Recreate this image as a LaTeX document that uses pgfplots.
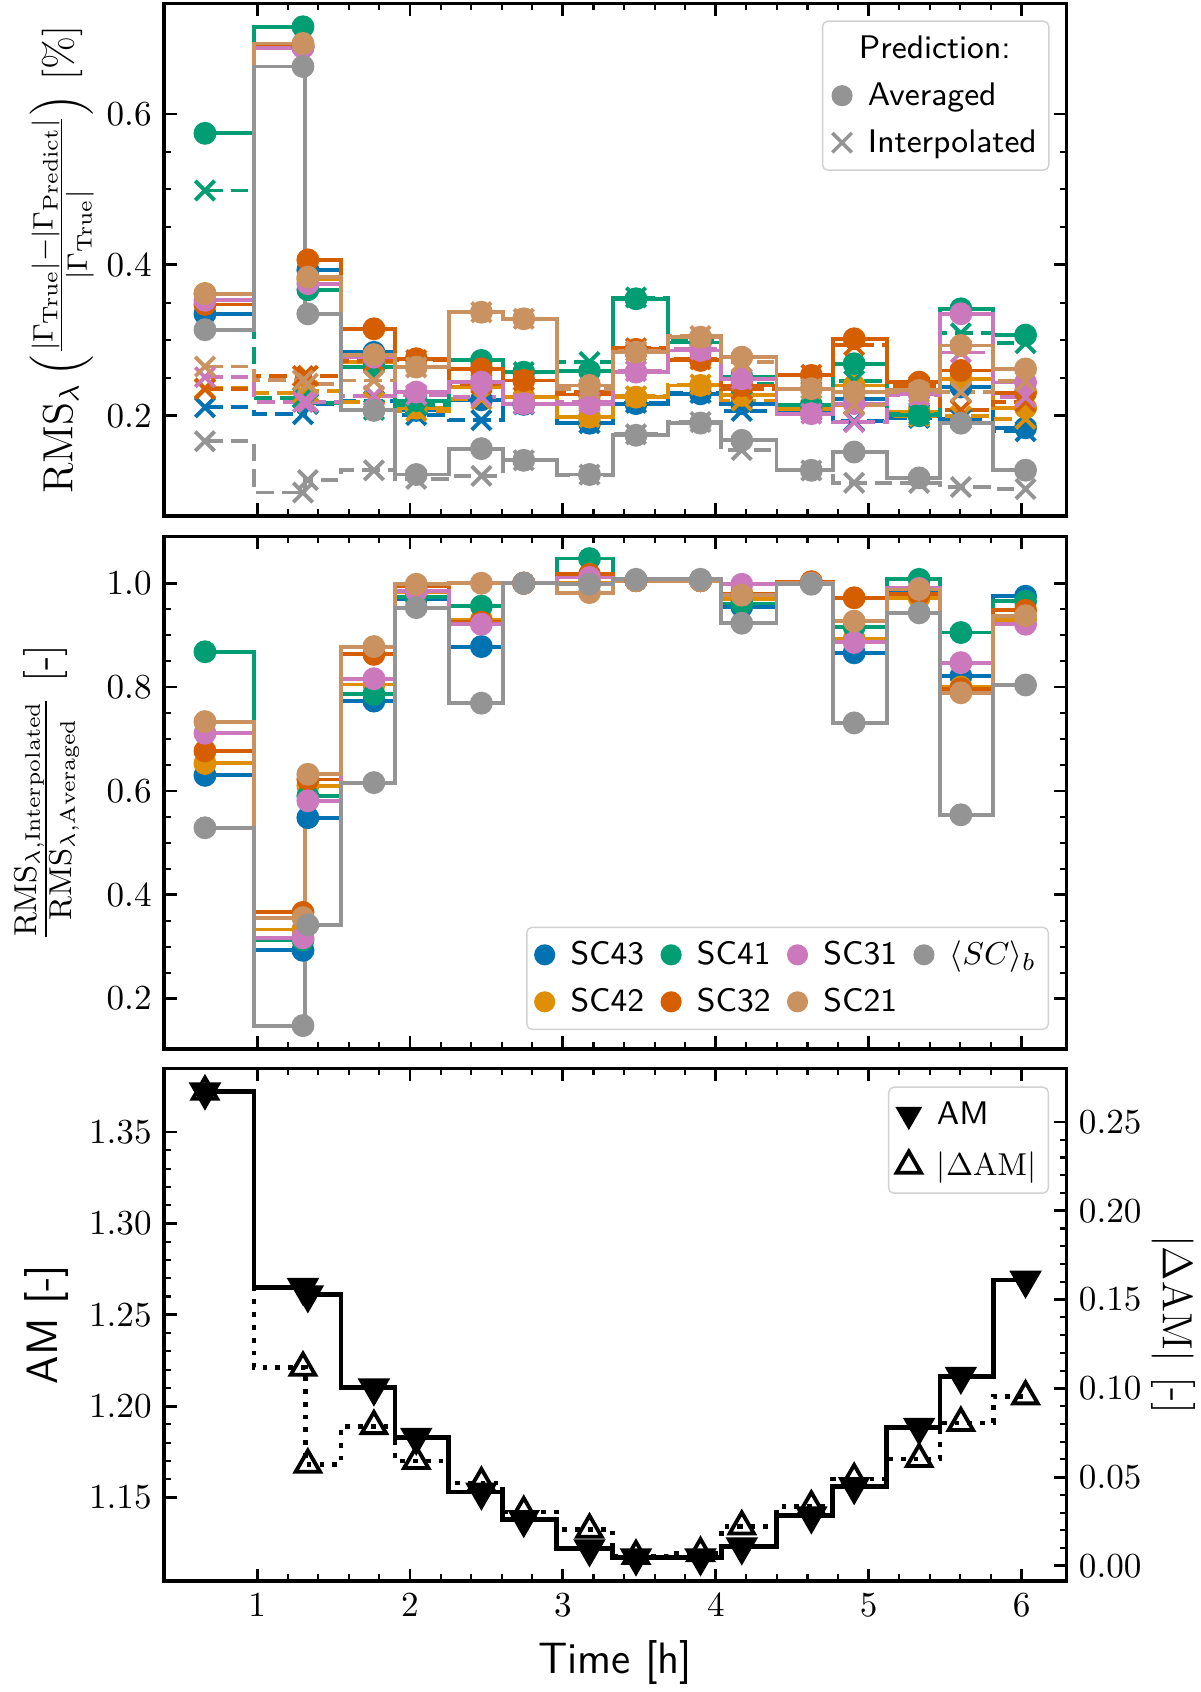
\documentclass[border=0pt]{standalone}
\usepackage{pgfplots}
\pgfplotsset{compat=1.18}
\usetikzlibrary{plotmarks}
\definecolor{cB}{HTML}{0173B2}
\definecolor{cO}{HTML}{DE8F05}
\definecolor{cG}{HTML}{029E73}
\definecolor{cR}{HTML}{D55E00}
\definecolor{cP}{HTML}{CC78BC}
\definecolor{cT}{HTML}{CA9161}
\definecolor{cK}{HTML}{949494}
\pgfplotsset{
  base/.style={
    scale only axis, width=90.25mm, height=51.25mm,
    xmin=0.391, xmax=6.294, xtick={1,2,3,4,5,6}, minor x tick num=4,
    tick align=inside,
    axis line style={line width=0.9pt},
    major tick length=1.25mm, minor tick length=0.7mm,
    major tick style={line width=0.8pt, black},
    minor tick style={line width=0.6pt, black},
    tick label style={font=\fontsize{10.2}{12}\selectfont},
    label style={font=\fontsize{12.5}{15}\selectfont},
    ylabel style={inner sep=1pt},
    legend cell align=left,
    legend style={draw=black!18, rounded corners=1.5pt, fill=white, inner sep=0.8mm,
      font=\sffamily\fontsize{9.3}{11}\selectfont,
      nodes={inner sep=0.4mm, text height=2.5mm, text depth=0.6mm},
      /tikz/row sep=0.8mm,
      /tikz/every odd column/.append style={column sep=1.2mm},
      /tikz/every even column/.append style={column sep=1.3mm}},
    legend image code/.code={\draw[mark repeat=2,mark phase=2,##1] plot coordinates {(0mm,0mm) (1.15mm,0mm) (2.3mm,0mm)};},
  },
  leftlabel/.style={ylabel style={at={(axis description cs:-0.130,0.5)}, anchor=center}},
  avg/.style={color=#1, const plot mark mid, line width=1.1pt, mark=*, mark size=2.7pt, mark options={solid}, forget plot},
  itp/.style={color=#1, const plot mark mid, line width=1.1pt, dash pattern=on 5pt off 2.3pt, mark=x, mark size=3.9pt, mark options={solid}, forget plot},
  rat/.style={color=#1, const plot mark mid, line width=1.1pt, mark=*, mark size=2.7pt, mark options={solid}, forget plot},
}
\begin{document}
\begin{tikzpicture}
\useasboundingbox (0,0) rectangle (120mm,169.2mm);
% ---------------- Panel 1 ----------------
\begin{axis}[base, at={(16.4mm,117.6mm)}, anchor=south west,
  xtick pos=both, ytick pos=both, xticklabels={},
  ymin=0.067, ymax=0.7466, ytick={0.2,0.4,0.6}, minor y tick num=3,
  yticklabel style={/pgf/number format/.cd, fixed, fixed zerofill, precision=1},
  ylabel={$\mathrm{RMS}_\lambda\left(\frac{|\Gamma_\mathrm{True}|-|\Gamma_\mathrm{Predict}|}{|\Gamma_\mathrm{True}|}\right)$ [\%]},
  ylabel style={at={(axis description cs:-0.113,0.5)}, anchor=center, inner sep=0pt, font=\fontsize{11.5}{13.5}\selectfont},
  legend style={at={(0.9812,0.9668)}, anchor=north east},
]
% SC43
\addplot[avg=cB] coordinates {(0.659,0.335) (1.300,0.689) (1.332,0.393) (1.764,0.284) (2.041,0.207) (2.467,0.221) (2.744,0.215) (3.174,0.190) (3.478,0.216) (3.900,0.229) (4.170,0.216) (4.625,0.207) (4.905,0.2225) (5.330,0.200) (5.603,0.238) (6.026,0.184)};
\addplot[itp=cB] coordinates {(0.659,0.2111) (1.300,0.2019) (1.332,0.2156) (1.764,0.2195) (2.041,0.2008) (2.467,0.1940) (2.744,0.2150) (3.174,0.1900) (3.478,0.2171) (3.900,0.2301) (4.170,0.2063) (4.625,0.2070) (4.905,0.1927) (5.330,0.1970) (5.603,0.1954) (6.026,0.1794)};
% SC42
\addplot[avg=cO] coordinates {(0.659,0.362) (1.300,0.692) (1.332,0.381) (1.764,0.271) (2.041,0.210) (2.467,0.2385) (2.744,0.2248) (3.174,0.1982) (3.478,0.2246) (3.900,0.2401) (4.170,0.2269) (4.625,0.209) (4.905,0.240) (5.330,0.205) (5.603,0.2489) (6.026,0.2105)};
\addplot[itp=cO] coordinates {(0.659,0.2364) (1.300,0.2304) (1.332,0.2324) (1.764,0.2182) (2.041,0.2064) (2.467,0.2218) (2.744,0.2248) (3.174,0.1982) (3.478,0.2257) (3.900,0.2413) (4.170,0.2201) (4.625,0.2090) (4.905,0.2143) (5.330,0.1993) (5.603,0.1991) (6.026,0.1958)};
% SC41
\addplot[avg=cG] coordinates {(0.659,0.5744) (1.300,0.7157) (1.332,0.367) (1.764,0.2645) (2.041,0.220) (2.467,0.2733) (2.744,0.2577) (3.174,0.259) (3.478,0.355) (3.900,0.297) (4.170,0.252) (4.625,0.2137) (4.905,0.2689) (5.330,0.2004) (5.603,0.3417) (6.026,0.3068)};
\addplot[itp=cG] coordinates {(0.659,0.4986) (1.300,0.2240) (1.332,0.2165) (1.764,0.2079) (2.041,0.2143) (2.467,0.2613) (2.744,0.2577) (3.174,0.2713) (3.478,0.3568) (3.900,0.2985) (4.170,0.2422) (4.625,0.2137) (4.905,0.2463) (5.330,0.2019) (5.603,0.3092) (6.026,0.2961)};
% SC32
\addplot[avg=cR] coordinates {(0.659,0.3475) (1.300,0.690) (1.332,0.4066) (1.764,0.3152) (2.041,0.2755) (2.467,0.2622) (2.744,0.2467) (3.174,0.228) (3.478,0.288) (3.900,0.2733) (4.170,0.24) (4.625,0.2534) (4.905,0.302) (5.330,0.2445) (5.603,0.26) (6.026,0.2306)};
\addplot[itp=cR] coordinates {(0.659,0.2353) (1.300,0.2525) (1.332,0.2529) (1.764,0.2720) (2.041,0.2738) (2.467,0.2425) (2.744,0.2467) (3.174,0.2319) (3.478,0.2894) (3.900,0.2747) (4.170,0.2352) (4.625,0.2542) (4.905,0.2935) (5.330,0.2394) (5.603,0.2072) (6.026,0.2186)};
% SC31
\addplot[avg=cP] coordinates {(0.659,0.353) (1.300,0.688) (1.332,0.375) (1.764,0.2777) (2.041,0.2313) (2.467,0.2445) (2.744,0.2159) (3.174,0.2159) (3.478,0.2578) (3.900,0.2865) (4.170,0.2489) (4.625,0.2027) (4.905,0.216) (5.330,0.229) (5.603,0.3351) (6.026,0.244)};
\addplot[itp=cP] coordinates {(0.659,0.2510) (1.300,0.2181) (1.332,0.2179) (1.764,0.2266) (2.041,0.2278) (2.467,0.2252) (2.744,0.2159) (3.174,0.2183) (3.478,0.2591) (3.900,0.2879) (4.170,0.2484) (4.625,0.2027) (4.905,0.1914) (5.330,0.2267) (5.603,0.2838) (6.026,0.2247)};
% SC21
\addplot[avg=cT] coordinates {(0.659,0.3616) (1.300,0.6936) (1.332,0.3837) (1.764,0.281) (2.041,0.2645) (2.467,0.3372) (2.744,0.3285) (3.174,0.2401) (3.478,0.2843) (3.900,0.3041) (4.170,0.2776) (4.625,0.2358) (4.905,0.2313) (5.330,0.2335) (5.603,0.2931) (6.026,0.262)};
\addplot[itp=cT] coordinates {(0.659,0.2652) (1.300,0.2469) (1.332,0.2425) (1.764,0.2467) (2.041,0.2640) (2.467,0.3372) (2.744,0.3285) (3.174,0.2358) (3.478,0.2857) (3.900,0.3056) (4.170,0.2712) (4.625,0.2358) (4.905,0.2144) (5.330,0.2307) (5.603,0.2313) (6.026,0.2456)};
% <SC>_b
\addplot[avg=cK] coordinates {(0.659,0.314) (1.300,0.663) (1.332,0.335) (1.764,0.207) (2.041,0.122) (2.467,0.1563) (2.744,0.1408) (3.174,0.122) (3.478,0.174) (3.900,0.1902) (4.170,0.1673) (4.625,0.1276) (4.905,0.1518) (5.330,0.1175) (5.603,0.190) (6.026,0.1277)};
\addplot[itp=cK] coordinates {(0.659,0.1661) (1.300,0.0981) (1.332,0.1146) (1.764,0.1275) (2.041,0.1163) (2.467,0.1202) (2.744,0.1408) (3.174,0.1218) (3.478,0.1753) (3.900,0.1916) (4.170,0.1544) (4.625,0.1273) (4.905,0.1110) (5.330,0.1108) (5.603,0.1053) (6.026,0.1027)};
\addlegendimage{empty legend}
\addlegendentry{\hspace*{-0.9mm}Prediction:}
\addlegendimage{only marks, mark=*, mark size=2.8pt, cK}
\addlegendentry{Averaged}
\addlegendimage{only marks, mark=x, mark size=3.9pt, line width=1.0pt, cK}
\addlegendentry{Interpolated}
\end{axis}
% ---------------- Panel 2 ----------------
\begin{axis}[base, leftlabel, at={(16.4mm,64.3mm)}, anchor=south west,
  xtick pos=both, ytick pos=both, xticklabels={},
  ymin=0.103, ymax=1.090, ytick={0.2,0.4,0.6,0.8,1.0}, minor y tick num=3,
  yticklabel style={/pgf/number format/.cd, fixed, fixed zerofill, precision=1},
  ylabel={$\frac{\mathrm{RMS}_{\lambda,\mathrm{Interpolated}}}{\mathrm{RMS}_{\lambda,\mathrm{Averaged}}}$ [-]},
  legend columns=4,
  legend style={at={(0.9806,0.037)}, anchor=south east},
]
\addplot[rat=cB] coordinates {(0.659,0.630) (1.300,0.293) (1.332,0.5485) (1.764,0.773) (2.041,0.970) (2.467,0.878) (2.744,1.0) (3.174,1.0) (3.478,1.005) (3.900,1.005) (4.170,0.955) (4.625,1.0) (4.905,0.866) (5.330,0.985) (5.603,0.821) (6.026,0.975)};
\addplot[rat=cO] coordinates {(0.659,0.653) (1.300,0.333) (1.332,0.610) (1.764,0.805) (2.041,0.983) (2.467,0.93) (2.744,1.0) (3.174,1.0) (3.478,1.005) (3.900,1.005) (4.170,0.97) (4.625,1.0) (4.905,0.893) (5.330,0.972) (5.603,0.80) (6.026,0.93)};
\addplot[rat=cG] coordinates {(0.659,0.868) (1.300,0.313) (1.332,0.590) (1.764,0.786) (2.041,0.974) (2.467,0.956) (2.744,1.0) (3.174,1.0475) (3.478,1.005) (3.900,1.005) (4.170,0.961) (4.625,1.0) (4.905,0.916) (5.330,1.0075) (5.603,0.905) (6.026,0.965)};
\addplot[rat=cR] coordinates {(0.659,0.677) (1.300,0.366) (1.332,0.622) (1.764,0.863) (2.041,0.994) (2.467,0.925) (2.744,1.0) (3.174,1.017) (3.478,1.005) (3.900,1.005) (4.170,0.98) (4.625,1.003) (4.905,0.972) (5.330,0.979) (5.603,0.797) (6.026,0.948)};
\addplot[rat=cP] coordinates {(0.659,0.711) (1.300,0.317) (1.332,0.581) (1.764,0.816) (2.041,0.985) (2.467,0.921) (2.744,1.0) (3.174,1.011) (3.478,1.005) (3.900,1.005) (4.170,0.998) (4.625,1.0) (4.905,0.886) (5.330,0.99) (5.603,0.847) (6.026,0.921)};
\addplot[rat=cT] coordinates {(0.659,0.7335) (1.300,0.356) (1.332,0.632) (1.764,0.878) (2.041,0.998) (2.467,1.0) (2.744,1.0) (3.174,0.982) (3.478,1.005) (3.900,1.005) (4.170,0.977) (4.625,1.0) (4.905,0.927) (5.330,0.988) (5.603,0.789) (6.026,0.9375)};
\addplot[rat=cK] coordinates {(0.659,0.529) (1.300,0.148) (1.332,0.342) (1.764,0.616) (2.041,0.953) (2.467,0.769) (2.744,1.0) (3.174,0.998) (3.478,1.0075) (3.900,1.0075) (4.170,0.923) (4.625,0.998) (4.905,0.731) (5.330,0.943) (5.603,0.554) (6.026,0.804)};
\addlegendimage{only marks, mark=*, mark size=2.8pt, cB}\addlegendentry{SC43}
\addlegendimage{only marks, mark=*, mark size=2.8pt, cG}\addlegendentry{SC41}
\addlegendimage{only marks, mark=*, mark size=2.8pt, cP}\addlegendentry{SC31}
\addlegendimage{only marks, mark=*, mark size=2.8pt, cK}\addlegendentry{$\langle SC\rangle_b$}
\addlegendimage{only marks, mark=*, mark size=2.8pt, cO}\addlegendentry{SC42}
\addlegendimage{only marks, mark=*, mark size=2.8pt, cR}\addlegendentry{SC32}
\addlegendimage{only marks, mark=*, mark size=2.8pt, cT}\addlegendentry{SC21}
\end{axis}
% ---------------- Panel 3 ----------------
\begin{axis}[base, leftlabel, at={(16.4mm,11.1mm)}, anchor=south west,
  xtick pos=both, ytick pos=left,
  ymin=1.1043, ymax=1.3848, ytick={1.15,1.2,1.25,1.3,1.35}, minor y tick num=4,
  yticklabel style={/pgf/number format/.cd, fixed, fixed zerofill, precision=2},
  xlabel={\textsf{Time [h]}},
  ylabel={\textsf{AM [-]}},
]
\addplot[black, const plot mark mid, line width=1.35pt, mark=triangle*, mark size=4pt, mark options={solid, rotate=180}, forget plot] coordinates {(0.659,1.372) (1.300,1.265) (1.332,1.261) (1.764,1.210) (2.041,1.183) (2.467,1.153) (2.744,1.138) (3.174,1.122) (3.478,1.117) (3.900,1.117) (4.170,1.123) (4.625,1.140) (4.905,1.156) (5.330,1.1885) (5.603,1.2164) (6.026,1.269)};
\end{axis}
\begin{axis}[base, at={(16.4mm,11.1mm)}, anchor=south west,
  hide x axis, ytick pos=right, yticklabel pos=right,
  ymin=-0.0085, ymax=0.2801, ytick={0,0.05,0.1,0.15,0.2,0.25}, minor y tick num=4,
  yticklabel style={/pgf/number format/.cd, fixed, fixed zerofill, precision=2},
  ylabel={$|\Delta\mathrm{AM}|$ [-]},
  ylabel style={at={(axis description cs:1.119,0.5)}, anchor=center, rotate=180},
  legend style={at={(0.9806,0.9649)}, anchor=north east, /tikz/row sep=1.2mm},
  legend image code/.code={\draw[mark repeat=2,mark phase=2,#1] plot coordinates {(0mm,0mm) (1.3mm,0mm) (2.6mm,0mm)};},
]
\addplot[black, const plot mark mid, line width=1.35pt, dash pattern=on 1.35pt off 2.3pt, mark=triangle, mark size=4pt, mark options={solid, fill=white, line width=1.1pt}, forget plot] coordinates {(0.659,0.267) (1.300,0.1116) (1.332,0.0570) (1.764,0.0787) (2.041,0.0591) (2.467,0.0467) (2.744,0.0303) (3.174,0.0204) (3.478,0.0056) (3.900,0.0072) (4.170,0.0222) (4.625,0.0335) (4.905,0.0489) (5.330,0.0602) (5.603,0.0805) (6.026,0.0955)};
\addlegendimage{only marks, mark=triangle*, mark size=4pt, mark options={rotate=180}, black}
\addlegendentry{AM}
\addlegendimage{only marks, mark=triangle, mark size=4pt, mark options={fill=white}, line width=1.1pt, black}
\addlegendentry{$|\Delta\mathrm{AM}|$}
\end{axis}
\end{tikzpicture}
\end{document}
